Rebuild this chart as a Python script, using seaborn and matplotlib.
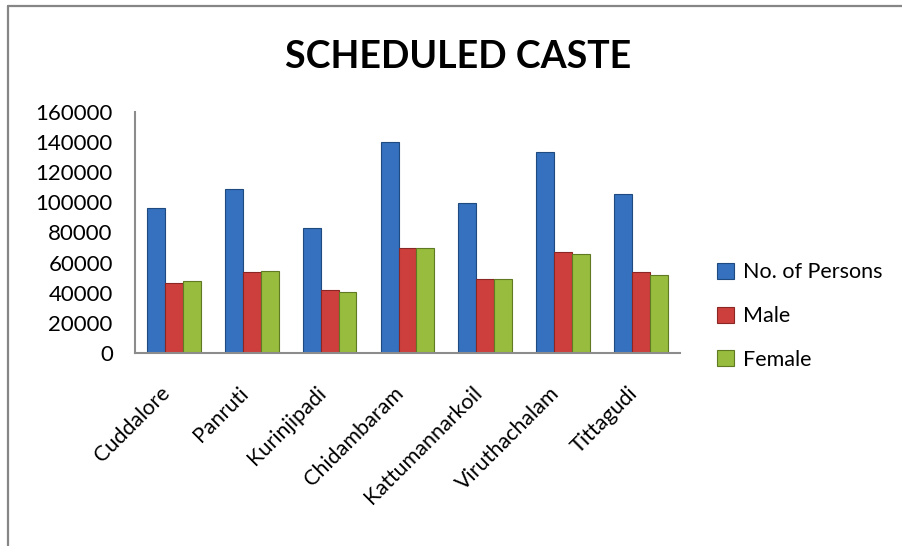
import matplotlib
matplotlib.use("Agg")
import matplotlib.pyplot as plt
import matplotlib.transforms as mtrans
import pandas as pd
import seaborn as sns
from matplotlib.lines import Line2D

# values
blocks = ["Cuddalore", "Panruti", "Kurinjipadi", "Chidambaram",
          "Kattumannarkoil", "Viruthachalam", "Tittagudi"]
persons = [96000, 108700, 82800, 139900, 99400, 133400, 105800]
male = [46300, 53600, 41600, 69500, 48900, 66900, 53600]
female = [47600, 54300, 40300, 69500, 48900, 65500, 51600]
series = ["No. of Persons", "Male", "Female"]
colors = ["#3571BF", "#CD3F3C", "#98BC3D"]
edges = ["#1F4A80", "#8A2624", "#5F7A22"]
y_ticks = [0, 20000, 40000, 60000, 80000, 100000, 120000, 140000, 160000]

df = pd.DataFrame({"Block": blocks, series[0]: persons,
                   series[1]: male, series[2]: female})
long = df.melt(id_vars="Block", var_name="Series", value_name="Count")

sns.set_style("white")
plt.rcParams["font.family"] = ["Lato", "DejaVu Sans"]
plt.rcParams["text.color"] = "black"

fig = plt.figure(figsize=(9.03, 5.46), dpi=100)
ax = fig.add_axes([0.1495, 0.3535, 0.6035, 0.4415])

sns.barplot(data=long, x="Block", y="Count", hue="Series", order=blocks,
            hue_order=series, palette=colors, width=0.69, gap=0,
            saturation=1, errorbar=None, ax=ax, legend=False)

# darker outline on each bar, per series
for cont, ec in zip(ax.containers, edges):
    for bar in cont:
        bar.set_edgecolor(ec)
        bar.set_linewidth(0.8)

ax.set_ylim(0, 160000)
ax.set_yticks(y_ticks)
ax.set_yticklabels([str(v) for v in y_ticks], fontsize=16, color="black")
ax.set_xlim(-0.5, len(blocks) - 0.5)
ax.set_xlabel("")
ax.set_ylabel("")
ax.tick_params(axis="y", length=0, pad=16)
ax.tick_params(axis="x", length=0, pad=20)
shift = mtrans.ScaledTranslation(-14 / 100, -2 / 100, fig.dpi_scale_trans)
for lbl in ax.get_xticklabels():
    lbl.set_rotation(45)
    lbl.set_ha("right")
    lbl.set_rotation_mode("anchor")
    lbl.set_fontsize(15.5)
    lbl.set_color("black")
    lbl.set_transform(lbl.get_transform() + shift)

for side in ["top", "right"]:
    ax.spines[side].set_visible(False)
for side in ["left", "bottom"]:
    ax.spines[side].set_color("#8C8C8C")
    ax.spines[side].set_linewidth(1.5)

handles = [plt.Rectangle((0, 0), 1, 1, facecolor=c, edgecolor=e, linewidth=0.8)
           for c, e in zip(colors, edges)]
leg = fig.legend(handles, series, loc="center left",
                 bbox_to_anchor=(0.773, 0.421), frameon=False, fontsize=15.5,
                 handlelength=0.75, handleheight=0.75, handletextpad=0.45,
                 labelspacing=1.1)
for t in leg.get_texts():
    t.set_color("black")

fig.text(0.507, 0.895, "SCHEDULED CASTE", ha="center", va="center",
         fontsize=27, fontweight="bold", color="black")

# chart frame, cut off at the right and bottom edges of the image
fig.add_artist(Line2D([8 / 903, 8 / 903], [0, 1 - 6 / 546],
                      color="#868686", linewidth=1.6))
fig.add_artist(Line2D([8 / 903, 1], [1 - 6 / 546, 1 - 6 / 546],
                      color="#868686", linewidth=1.6))

fig.savefig("out.png", dpi=100, facecolor="white")
